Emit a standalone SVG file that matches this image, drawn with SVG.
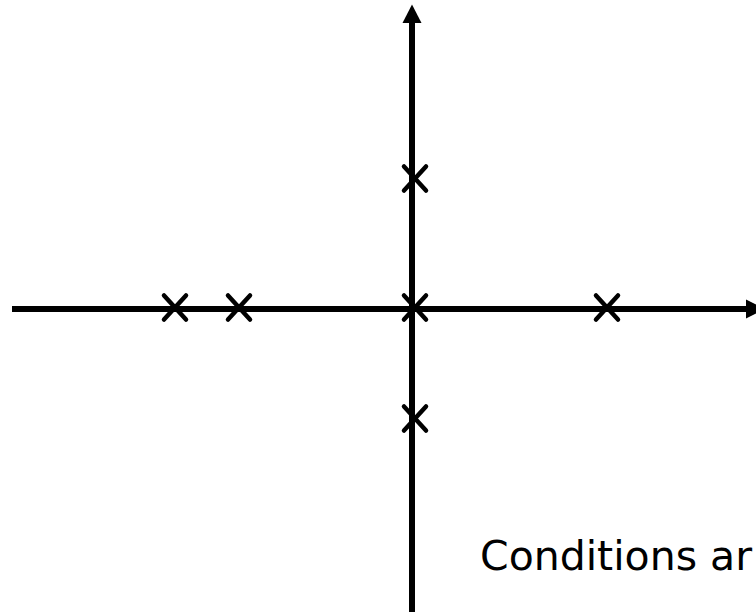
<svg xmlns="http://www.w3.org/2000/svg" width="756" height="612" viewBox="0 0 756 612">
<style>
.axis{stroke:#000;stroke-width:6;fill:none}
.head{fill:#000;stroke:none}
.pole{stroke:#000;stroke-width:4.5;stroke-linecap:round;fill:none}
.lbl{font-family:"DejaVu Sans","Noto Sans",sans-serif;font-size:41px;fill:#000}
</style>
<defs>
<path id="x" class="pole" d="M-11,-12 L11,12 M11,-12 L-11,12"/>
</defs>
<rect width="756" height="612" fill="#fff"/>
<g id="connectors">
<line class="axis" x1="12" y1="309" x2="748" y2="309"/>
<polygon class="head" points="746,299.5 765,309 746,318.5"/>
<line class="axis" x1="412" y1="612" x2="412" y2="21"/>
<polygon class="head" points="402.5,23 412,4.5 421.5,23"/>
</g>
<g id="pole1"><use href="#x" x="175" y="307.5"/></g>
<g id="pole2"><use href="#x" x="239" y="307.5"/></g>
<g id="pole3"><use href="#x" x="415" y="307.5"/></g>
<g id="pole4"><use href="#x" x="607" y="307.5"/></g>
<g id="pole5"><use href="#x" x="415" y="178.5"/></g>
<g id="pole6"><use href="#x" x="415" y="418.5"/></g>
<g id="label"><text class="lbl" x="480" y="570">Conditions ar</text></g>
</svg>
